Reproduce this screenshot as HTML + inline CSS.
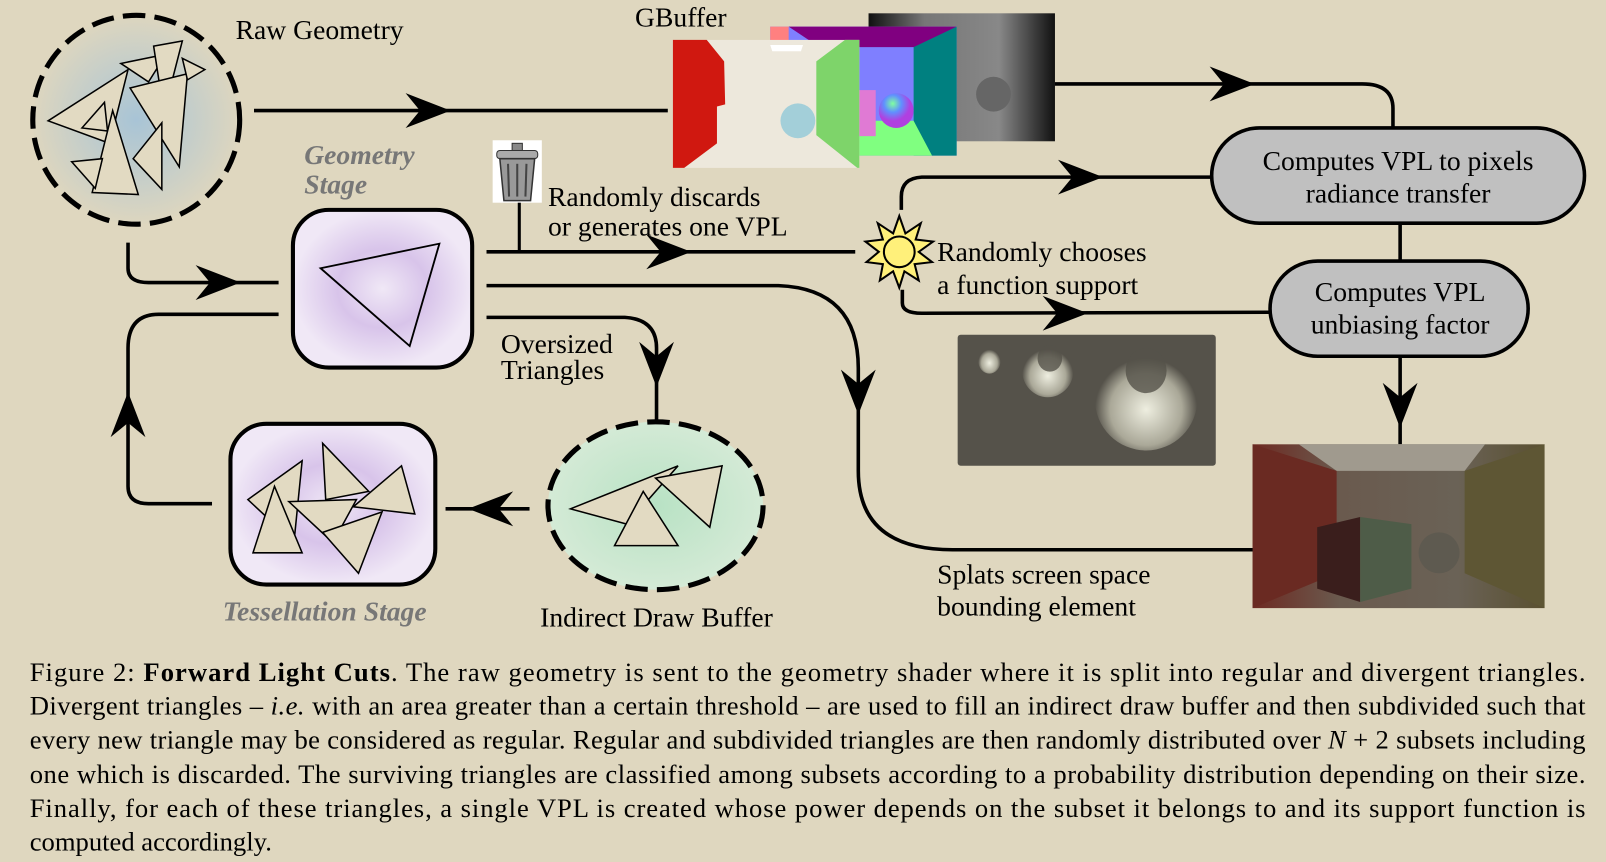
<!DOCTYPE html>
<html><head><meta charset="utf-8"><style>
html,body{margin:0;padding:0;background:#dfd7bf;}
svg{display:block;font-family:"Liberation Serif",serif;}
</style></head><body>
<svg width="1606" height="862" viewBox="0 0 1568 842" preserveAspectRatio="none">
<defs>
<radialGradient id="gBlue"><stop offset="0" stop-color="#a8c4d6"/><stop offset="1" stop-color="#ddd6bf"/></radialGradient>
<radialGradient id="gPurple"><stop offset="0" stop-color="#f0e8f6"/><stop offset="0.5" stop-color="#d8c4ea"/><stop offset="1" stop-color="#f0e8f6"/></radialGradient>
<radialGradient id="gGreen"><stop offset="0" stop-color="#b8e2c4"/><stop offset="1" stop-color="#d4ead6"/></radialGradient>
<linearGradient id="gDepth" x1="0" x2="1"><stop offset="0" stop-color="#111"/><stop offset="0.3" stop-color="#777"/><stop offset="0.7" stop-color="#888"/><stop offset="1" stop-color="#111"/></linearGradient>
<radialGradient id="gSphere" cx="0.4" cy="0.3"><stop offset="0" stop-color="#80ffa0"/><stop offset="0.5" stop-color="#6090ff"/><stop offset="1" stop-color="#b040e0"/></radialGradient>
<radialGradient id="gSpot" cx="0.5" cy="0.6"><stop offset="0" stop-color="#eeeee0"/><stop offset="0.7" stop-color="#aaa898"/><stop offset="1" stop-color="#55524a"/></radialGradient>
<linearGradient id="gRender" x1="0" x2="1"><stop offset="0" stop-color="#6e2a22"/><stop offset="0.3" stop-color="#6a5a4e"/><stop offset="0.7" stop-color="#6a6256"/><stop offset="1" stop-color="#5a5030"/></linearGradient>
<path id="ah" d="M0,0 L-44,-17 L-30,0 L-44,17 Z" fill="#000"/>
</defs>

<g>
<ellipse cx="133" cy="117" rx="101" ry="102" fill="url(#gBlue)" stroke="#000" stroke-width="5" stroke-dasharray="22,9"/>
<g fill="#e2dac2" stroke="#000" stroke-width="1.5">
<polygon points="47,118 125,68 107,140"/><polygon points="118,62 162,53 145,80"/><polygon points="150,45 178,40 160,110"/>
<polygon points="127,86 183,72 175,163"/><polygon points="80,125 102,100 105,128"/><polygon points="110,108 135,190 90,188"/>
<polygon points="70,158 100,155 93,184"/><polygon points="130,155 158,120 158,185"/><polygon points="178,57 200,68 183,78"/>
</g></g>
<text x="230" y="38" font-size="27">Raw Geometry</text>

<text x="620" y="26" font-size="27">GBuffer</text>
<g>
<rect x="848" y="13" width="182" height="125" fill="url(#gDepth)"/>
<circle cx="970" cy="92" r="17" fill="#666"/>
</g>
<g>
<rect x="752" y="26" width="182" height="126" fill="#7f7fff"/>
<polygon points="770,26 934,26 900,46 800,46" fill="#800080"/>
<polygon points="752,26 770,26 770,40 752,40" fill="#ff8080"/>
<polygon points="892,46 934,26 934,152 892,152" fill="#008080"/>
<polygon points="800,118 892,118 910,152 780,152" fill="#80ff80"/>
<rect x="835" y="88" width="20" height="45" fill="#e07ad4"/>
<circle cx="875" cy="108" r="17" fill="url(#gSphere)"/>
</g>
<g>
<rect x="657" y="39" width="182" height="125" fill="#ede8dc"/>
<polygon points="657,39 690,39 707,60 708,102 700,104 700,140 668,164 657,164" fill="#d01810"/>
<polygon points="797,60 825,39 839,39 839,164 837,164 797,132" fill="#7ed46a"/>
<polygon points="752,44 784,44 782,50 754,50" fill="#fff"/>
<circle cx="779" cy="118" r="17" fill="#a3cfd9"/>
</g>
<line x1="248" y1="108" x2="652" y2="108" stroke="#000" stroke-width="3.5"/>
<use href="#ah" transform="translate(440,108)"/>

<path d="M1030,82 L1330,82 Q1360,82 1360,106 L1360,125" fill="none" stroke="#000" stroke-width="3.5"/>
<use href="#ah" transform="translate(1225,82)"/>

<g>
<rect x="1183" y="125" width="364" height="93" rx="46.5" fill="#c0c0c0" stroke="#000" stroke-width="3.5"/>
<text x="1365" y="166" font-size="27" text-anchor="middle">Computes VPL to pixels</text>
<text x="1365" y="198" font-size="27" text-anchor="middle">radiance transfer</text>
</g>
<line x1="1367" y1="218" x2="1367" y2="255" stroke="#000" stroke-width="3.5"/>
<g>
<rect x="1240" y="255" width="252" height="93" rx="46.5" fill="#c0c0c0" stroke="#000" stroke-width="3.5"/>
<text x="1367" y="294" font-size="27" text-anchor="middle">Computes VPL</text>
<text x="1367" y="326" font-size="27" text-anchor="middle">unbiasing factor</text>
</g>
<line x1="1367" y1="348" x2="1367" y2="434" stroke="#000" stroke-width="3.5"/>
<use href="#ah" transform="translate(1367,418) rotate(90)"/>

<g>
<rect x="1223" y="434" width="285" height="160" fill="url(#gRender)"/>
<polygon points="1268,434 1450,434 1430,460 1305,460" fill="#a09a8e"/>
<polygon points="1223,434 1305,460 1305,560 1223,594" fill="#6a2a22"/>
<polygon points="1430,460 1508,434 1508,594 1430,560" fill="#5e5634"/>
<polygon points="1286,515 1328,505 1328,588 1286,575" fill="#3a1e1c"/>
<polygon points="1328,505 1378,512 1378,575 1328,588" fill="#4e5c48"/>
<circle cx="1405" cy="540" r="20" fill="#5e5a50"/>
</g>

<path d="M880,205 L880,192 Q880,174 900,173 L1183,173" fill="none" stroke="#000" stroke-width="3.5"/>
<use href="#ah" transform="translate(1077,173)"/>
<path d="M881,283 L881,296 Q881,306 900,306 L1240,305" fill="none" stroke="#000" stroke-width="3.5"/>
<use href="#ah" transform="translate(1062,306)"/>
<g>
<polygon points="878,211 884,228 899,218 894,234 911,236 897,246 910,256 893,258 897,274 883,265 878,281 872,265 859,274 862,258 846,256 858,246 845,236 862,234 857,218 872,228" fill="#fff07a" stroke="#000" stroke-width="2"/>
<circle cx="878" cy="246" r="15" fill="#fff07a" stroke="#000" stroke-width="2"/>
</g>
<text x="915" y="255" font-size="27">Randomly chooses</text>
<text x="915" y="287" font-size="27">a function support</text>

<g>
<rect x="935" y="327" width="252" height="128" rx="3" fill="#55524a"/>
<ellipse cx="966" cy="352" rx="11" ry="13" fill="url(#gSpot)"/>
<ellipse cx="1023" cy="362" rx="25" ry="26" fill="url(#gSpot)"/>
<ellipse cx="1025" cy="350" rx="12" ry="13" fill="#55524a" opacity="0.8"/>
<ellipse cx="1119" cy="390" rx="50" ry="50" fill="url(#gSpot)"/>
<ellipse cx="1119" cy="362" rx="20" ry="22" fill="#55524a" opacity="0.8"/>
</g>

<text x="297" y="160" font-size="27" font-style="italic" font-weight="bold" fill="#777">Geometry</text>
<text x="297" y="189" font-size="27" font-style="italic" font-weight="bold" fill="#777">Stage</text>
<g>
<rect x="286" y="205" width="175" height="154" rx="35" fill="url(#gPurple)" stroke="#000" stroke-width="4"/>
<polygon points="313,262 429,238 400,338" fill="none" stroke="#000" stroke-width="1.8"/>
</g>

<g>
<rect x="481" y="137" width="48" height="61" fill="#fff"/>
<rect x="500" y="140" width="10" height="7" fill="#888" stroke="#333"/>
<rect x="485" y="147" width="40" height="8" rx="3" fill="#aaa" stroke="#333"/>
<path d="M488,155 L522,155 L518,196 L492,196 Z" fill="#999" stroke="#333" stroke-width="1.5"/>
<g stroke="#444" stroke-width="2"><line x1="496" y1="160" x2="497" y2="192"/><line x1="505" y1="160" x2="505" y2="192"/><line x1="514" y1="160" x2="513" y2="192"/></g>
</g>
<text x="535" y="201" font-size="27">Randomly discards</text>
<text x="535" y="230" font-size="27">or generates one VPL</text>
<line x1="507" y1="198" x2="507" y2="246" stroke="#000" stroke-width="3"/>
<line x1="475" y1="246" x2="835" y2="246" stroke="#000" stroke-width="3.5"/>
<use href="#ah" transform="translate(675,246)"/>

<path d="M125,237 L125,262 Q125,276 145,276 L272,276" fill="none" stroke="#000" stroke-width="3.5"/>
<use href="#ah" transform="translate(235,276)"/>
<path d="M272,307 L155,307 Q125,307 125,340 L125,475 Q125,492 145,492 L207,492" fill="none" stroke="#000" stroke-width="3.5"/>
<use href="#ah" transform="translate(125,383) rotate(-90)"/>
<path d="M475,279 L760,279 Q838,282 838,360 L838,460 Q838,537 930,537 L1223,537" fill="none" stroke="#000" stroke-width="3.5"/>
<use href="#ah" transform="translate(838,405) rotate(90)"/>
<path d="M475,310 L610,310 Q641,312 641,340 L641,411" fill="none" stroke="#000" stroke-width="3.5"/>
<use href="#ah" transform="translate(641,378) rotate(90)"/>
<text x="489" y="345" font-size="27">Oversized</text>
<text x="489" y="370" font-size="27">Triangles</text>

<g>
<ellipse cx="640" cy="494" rx="105" ry="82" fill="url(#gGreen)" stroke="#000" stroke-width="5" stroke-dasharray="22,9"/>
<g fill="#e2dac2" stroke="#000" stroke-width="1.5">
<polygon points="557,497 662,455 612,512"/><polygon points="640,467 705,455 693,515"/><polygon points="628,480 662,533 600,533"/>
</g></g>
<text x="641" y="612" font-size="27" text-anchor="middle">Indirect Draw Buffer</text>
<line x1="517" y1="497" x2="435" y2="497" stroke="#000" stroke-width="3.5"/>
<use href="#ah" transform="translate(457,497) rotate(180)"/>

<g>
<rect x="225" y="414" width="200" height="157" rx="35" fill="url(#gPurple)" stroke="#000" stroke-width="4"/>
<g fill="#e2dac2" stroke="#000" stroke-width="1.5">
<polygon points="242,488 295,450 287,530"/><polygon points="315,433 360,480 318,488"/><polygon points="345,495 392,455 405,502"/>
<polygon points="268,475 295,540 247,540"/><polygon points="282,490 348,488 325,530"/><polygon points="315,520 373,500 350,560"/>
</g></g>
<text x="317" y="606" font-size="27" font-style="italic" font-weight="bold" fill="#777" text-anchor="middle">Tessellation Stage</text>

<text x="915" y="570" font-size="27">Splats screen space</text>
<text x="915" y="601" font-size="27">bounding element</text>

<g font-size="26">
<text x="29" y="665" textLength="1519" lengthAdjust="spacing">Figure 2: <tspan font-weight="bold">Forward Light Cuts</tspan>. The raw geometry is sent to the geometry shader where it is split into regular and divergent triangles.</text>
<text x="29" y="698" textLength="1519" lengthAdjust="spacing">Divergent triangles – <tspan font-style="italic">i.e.</tspan>  with an area greater than a certain threshold – are used to fill an indirect draw buffer and then subdivided such that</text>
<text x="29" y="731" textLength="1519" lengthAdjust="spacing">every new triangle may be considered as regular. Regular and subdivided triangles are then randomly distributed over <tspan font-style="italic">N</tspan> + 2 subsets including</text>
<text x="29" y="765" textLength="1519" lengthAdjust="spacing">one which is discarded. The surviving triangles are classified among subsets according to a probability distribution depending on their size.</text>
<text x="29" y="798" textLength="1519" lengthAdjust="spacing">Finally, for each of these triangles, a single VPL is created whose power depends on the subset it belongs to and its support function is</text>
<text x="29" y="831">computed accordingly.</text>
</g>
</svg>
</body></html>
